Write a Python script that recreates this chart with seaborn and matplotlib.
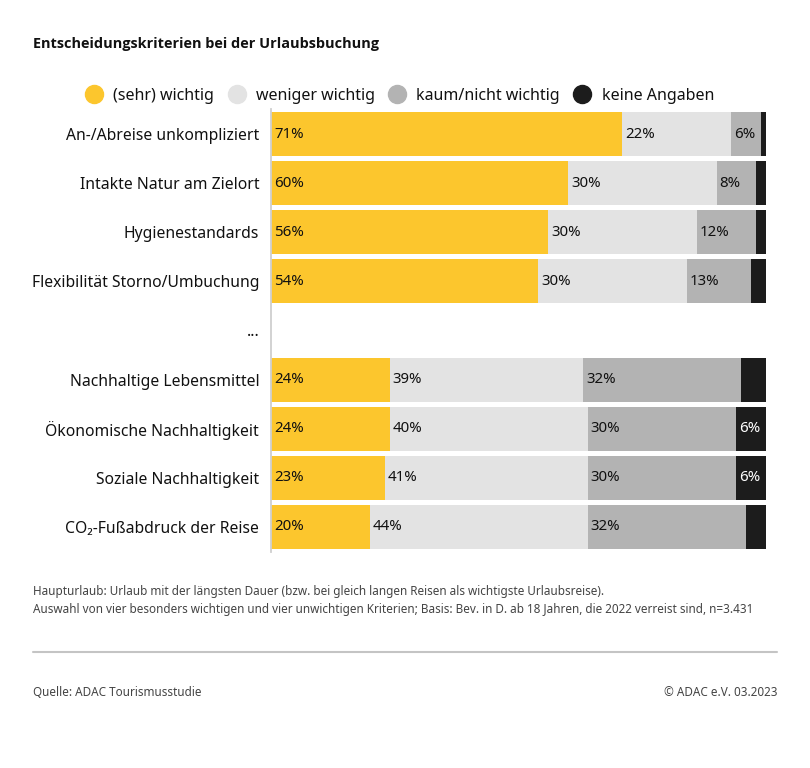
import matplotlib
matplotlib.use("Agg")
import matplotlib.pyplot as plt
from matplotlib.lines import Line2D
import seaborn as sns
import pandas as pd
import numpy as np

# ---- data ----
categories = [
    "An-/Abreise unkompliziert",
    "Intakte Natur am Zielort",
    "Hygienestandards",
    "Flexibilität Storno/Umbuchung",
    "Nachhaltige Lebensmittel",
    "Ökonomische Nachhaltigkeit",
    "Soziale Nachhaltigkeit",
    "CO₂-Fußabdruck der Reise",
]
gap_label = "..."
sehr_wichtig = [71, 60, 56, 54, 24, 24, 23, 20]
weniger_wichtig = [22, 30, 30, 30, 39, 40, 41, 44]
kaum_wichtig = [6, 8, 12, 13, 32, 30, 30, 32]
keine_angaben = [1, 2, 2, 3, 5, 6, 6, 4]
series_names = ["(sehr) wichtig", "weniger wichtig", "kaum/nicht wichtig", "keine Angaben"]

colors = ["#FCC62D", "#E3E3E3", "#B3B3B3", "#1C1C1C"]
text_colors = ["#111111", "#111111", "#111111", "#FFFFFF"]

FONT = ["Noto Sans", "DejaVu Sans"]
sns.set_theme(style="white")
plt.rcParams["font.family"] = FONT

order = categories[:4] + [gap_label] + categories[4:]

df = pd.DataFrame({
    "Kriterium": categories,
    series_names[0]: sehr_wichtig,
    series_names[1]: weniger_wichtig,
    series_names[2]: kaum_wichtig,
    series_names[3]: keine_angaben,
})
vals = df[series_names].to_numpy(dtype=float)
cum = np.cumsum(vals, axis=1)
starts = cum - vals

fig = plt.figure(figsize=(8.1, 7.68), dpi=100)
ax = fig.add_axes([271 / 810, 1 - 551.5 / 768, 495 / 810, 442 / 768])

# draw cumulative layers from the largest to the smallest
for i in range(len(series_names) - 1, -1, -1):
    layer = pd.DataFrame({"Kriterium": categories, "v": cum[:, i]})
    sns.barplot(data=layer, y="Kriterium", x="v", order=order, orient="h",
                color=colors[i], saturation=1, width=0.9, linewidth=0,
                edgecolor="none", ax=ax)

# labels
ypos = {c: order.index(c) for c in categories}
for r, c in enumerate(categories):
    for i in range(len(series_names)):
        v = vals[r, i]
        if v >= 6:
            ax.annotate(f"{int(v)}%", xy=(starts[r, i], ypos[c]), xytext=(2.2, 0),
                        textcoords="offset points", ha="left", va="center",
                        fontsize=10.8, fontweight="medium", color=text_colors[i])

ax.set_xlim(0, 100)
ax.set_ylim(len(order) - 0.5, -0.5)
ax.set_xlabel("")
ax.set_ylabel("")
ax.set_xticks([])
ax.tick_params(axis="y", length=0, pad=8.5, labelsize=11.3, labelcolor="#111111")
for s in ["top", "right", "bottom"]:
    ax.spines[s].set_visible(False)
ax.spines["left"].set_color("#CFCFCF")
ax.spines["left"].set_linewidth(1.3)

# title
fig.text(33 / 810, 1 - 44 / 768, "Entscheidungskriterien bei der Urlaubsbuchung",
         fontsize=10.45, fontweight="bold", ha="left", va="center", color="#111111",
         family=["Open Sans", "Lato", "DejaVu Sans"])

# legend
handles = [Line2D([0], [0], marker="o", linestyle="none", markersize=13,
                  markerfacecolor=colors[i], markeredgecolor=colors[i])
           for i in range(4)]
fig.legend(handles, series_names, loc="center", bbox_to_anchor=(0.493, 1 - 96 / 768),
           ncol=4, frameon=False, fontsize=11.5, handletextpad=0.6,
           columnspacing=0.8, handlelength=1.2, labelcolor="#111111")

# footer
foot_color = "#444444"
fig.text(33 / 810, 1 - 591 / 768,
         "Haupturlaub: Urlaub mit der längsten Dauer (bzw. bei gleich langen Reisen als wichtigste Urlaubsreise).",
         fontsize=8.45, ha="left", va="center", color=foot_color)
fig.text(33 / 810, 1 - 609 / 768,
         "Auswahl von vier besonders wichtigen und vier unwichtigen Kriterien; Basis: Bev. in D. ab 18 Jahren, die 2022 verreist sind, n=3.431",
         fontsize=8.45, ha="left", va="center", color=foot_color)
fig.add_artist(Line2D([33 / 810, 777 / 810], [1 - 652 / 768, 1 - 652 / 768],
                      color="#C4C4C4", linewidth=1.5, transform=fig.transFigure))
fig.text(33 / 810, 1 - 692 / 768, "Quelle: ADAC Tourismusstudie",
         fontsize=8.45, ha="left", va="center", color=foot_color)
fig.text(777 / 810, 1 - 692 / 768, "© ADAC e.V. 03.2023",
         fontsize=8.45, ha="right", va="center", color=foot_color)

fig.savefig("out.png", dpi=100, facecolor="white")
